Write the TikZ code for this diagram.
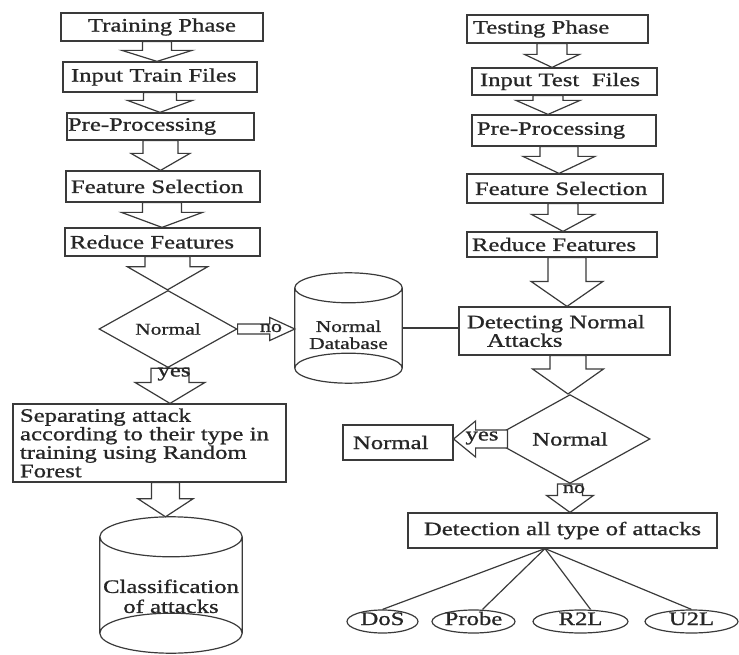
\documentclass[tikz,border=0pt]{standalone}
\usepackage{fontspec}
\setmainfont{Liberation Serif}[FakeStretch=1.3, FakeBold=1]
\usepackage{xcolor}
\definecolor{lineink}{HTML}{3A3A3A}
\definecolor{textink}{HTML}{262626}
\usetikzlibrary{shapes.geometric,calc}

\newcommand{\boxfont}{\fontsize{19}{18.5}\selectfont}
\newcommand{\canfont}{\fontsize{16.5}{17}\selectfont}
\newcommand{\tagfont}{\fontsize{17}{17}\selectfont}

% block arrows: start, tip, shaft half width, head half width, head length
\newcommand{\fatdown}[5]{%
  \draw[fat] let \p1=(#1), \p2=(#2) in
    (\x1-#3,\y1) -- (\x1-#3,\y2+#5) -- (\x1-#4,\y2+#5) -- (\x1,\y2)
    -- (\x1+#4,\y2+#5) -- (\x1+#3,\y2+#5) -- (\x1+#3,\y1) -- cycle;}
\newcommand{\fatright}[5]{%
  \draw[fat] let \p1=(#1), \p2=(#2) in
    (\x1,\y1+#3) -- (\x2-#5,\y1+#3) -- (\x2-#5,\y1+#4) -- (\x2,\y1)
    -- (\x2-#5,\y1-#4) -- (\x2-#5,\y1-#3) -- (\x1,\y1-#3) -- cycle;}
\newcommand{\fatleft}[5]{%
  \draw[fat] let \p1=(#1), \p2=(#2) in
    (\x1,\y1+#3) -- (\x2+#5,\y1+#3) -- (\x2+#5,\y1+#4) -- (\x2,\y1)
    -- (\x2+#5,\y1-#4) -- (\x2+#5,\y1-#3) -- (\x1,\y1-#3) -- cycle;}
% can outline round a named node, #2 = half height of the ends
\newcommand{\dbcan}[2]{%
  \draw[line] let \p1=(#1.north west), \p2=(#1.south east), \n1={(\x2-\x1)/2} in
    (\x1,\y1-#2) -- (\x1,\y2+#2) (\x2,\y1-#2) -- (\x2,\y2+#2)
    (\x1+\n1,\y1-#2) ellipse [x radius=\n1, y radius=#2 pt]
    (\x1+\n1,\y2+#2) ellipse [x radius=\n1, y radius=#2 pt];}

\begin{document}
\begin{tikzpicture}[
  x=1pt, y=-1pt,
  line/.style={draw=lineink, line width=1.2pt},
  fat/.style={line, fill=white, line join=miter},
  stage/.style={rectangle, line, align=left, inner ysep=0pt, font=\boxfont, text=textink},
  cstage/.style={stage, align=center},
  test/.style={diamond, line, inner sep=0pt, text=textink},
  can/.style={rectangle, inner sep=0pt, align=center, text=textink},
  kind/.style={ellipse, line, inner sep=0pt, minimum height=23pt, text height=9pt,
               text depth=2pt, font=\boxfont, text=textink},
  tag/.style={inner sep=0pt, text=textink},
]
\useasboundingbox (0,0) rectangle (739,655);

% ---- training side
\node[cstage, minimum width=202pt, minimum height=28pt] (tp) at (162,27) {Training Phase};
\node[stage, text width=178pt, inner xsep=8pt, minimum height=30pt] (itf) at (160,77) {Input Train Files};
\node[stage, text width=185pt, inner xsep=1pt, minimum height=27pt] (pp) at (160.5,126.5) {Pre-Processing};
\node[stage, text width=184pt, inner xsep=5pt, minimum height=31pt] (fs) at (163,186.5) {Feature Selection};
\node[stage, text width=185pt, inner xsep=5pt, minimum height=28pt] (rf) at (162.5,242) {Reduce Features};
\node[test, minimum width=138pt, minimum height=62pt, font=\canfont] (dia1) at (168,329) {Normal};
\node[can, minimum width=107pt, minimum height=110pt, font=\canfont] (ndb) at (348.5,328)
  {\rule{0pt}{25pt}Normal\\Database};
\dbcan{ndb}{15}
\node[stage, text width=259pt, inner xsep=7pt, minimum height=78pt] (sep) at (149.5,443)
  {Separating attack\\according to their type in\\training using Random\\Forest};
\node[can, minimum width=142pt, minimum height=136pt, font=\fontsize{19}{20}\selectfont] (cls) at (171,585)
  {\rule{0pt}{36pt}Classification\\of attacks};
\dbcan{cls}{20}

\fatdown{$(tp.south)+(-5,0)$}{itf.north}{14.5}{35}{11}
\fatdown{itf.south}{pp.north}{16.5}{32.5}{12}
\fatdown{pp.south}{fs.north}{17.5}{29.5}{17}
\fatdown{$(fs.south)+(-1,0)$}{rf.north}{19.5}{40.5}{15}
\fatdown{$(rf.south)+(5,0)$}{dia1.north}{22.5}{40}{23}
\fatright{dia1.east}{ndb.west}{5}{11.5}{25}
\fatdown{$(dia1.south)+(2,0)$}{sep.north}{19}{35}{21}
\fatdown{$(sep.south)+(16,0)$}{cls.north}{14}{27.5}{18}
\node[tag, font=\tagfont] (nolbl1) at (271,328) {no};
\node[tag, font=\boxfont] (yeslbl1) at (174,374) {yes};

% ---- testing side
\node[stage, text width=169pt, inner xsep=6pt, minimum height=28pt] (tsp) at (557.5,29) {Testing Phase};
\node[stage, text width=169pt, inner xsep=8pt, minimum height=27pt] (itsf) at (564.5,81.5) {Input Test\ \ Files};
\node[stage, text width=174pt, inner xsep=5pt, minimum height=31pt] (pp2) at (564,130.5) {Pre-Processing};
\node[stage, text width=180pt, inner xsep=8pt, minimum height=29pt] (fs2) at (565,188.5) {Feature Selection};
\node[stage, text width=180pt, inner xsep=5pt, minimum height=25pt] (rf2) at (562,244.5) {Reduce Features};
\node[stage, text width=195pt, inner xsep=8pt, minimum height=48pt] (dna) at (564.5,331)
  {Detecting Normal\\\hspace*{20pt}Attacks};
\node[test, minimum width=160pt, minimum height=68pt, font=\boxfont] (dia2) at (570,439) {Normal};
\node[stage, text width=90pt, inner xsep=10pt, minimum height=35pt] (nbox) at (398,442.5) {Normal};
\node[cstage, minimum width=309pt, minimum height=35pt] (det) at (562.5,530.5) {Detection all type of attacks};

\fatdown{$(tsp.south)+(-5.5,0)$}{itsf.north}{15}{27.5}{13}
\fatdown{$(itsf.south)+(-16.5,0)$}{pp2.north}{15}{32}{14}
\fatdown{$(pp2.south)+(-5,0)$}{fs2.north}{19}{36}{17}
\fatdown{$(fs2.south)+(-2,0)$}{rf2.north}{15}{31.5}{17}
\fatdown{$(rf2.south)+(5,0)$}{dna.north}{19}{36}{25}
\fatdown{$(dna.south)+(3.5,0)$}{dia2.north}{18}{35.5}{25}
\fatleft{$(dia2.west)+(18,0)$}{nbox.east}{9}{18}{22}
\fatdown{dia2.south}{det.north}{12.5}{23.5}{17}
\node[tag, font=\boxfont] (yeslbl2) at (482,438) {yes};
\node[tag, font=\tagfont] (nolbl2) at (574,489) {no};

\draw[line] (ndb.east) -- (ndb.east -| dna.west);

% ---- attack kinds
\node[kind, minimum width=71pt] (dos) at (382.5,621.5) {DoS};
\node[kind, minimum width=83pt] (probe) at (473.5,621.5) {Probe};
\node[kind, minimum width=95pt] (r2l) at (580.5,621.5) {R2L};
\node[kind, minimum width=93pt] (u2l) at (691.5,621.5) {U2L};
\coordinate (hub) at ($(det.south)+(-17.5,0)$);
\foreach \e/\dx in {dos/0, probe/9, r2l/10, u2l/0}
  \draw[line] (hub) -- ($(\e.north)+(\dx,0)$);
\end{tikzpicture}
\end{document}
